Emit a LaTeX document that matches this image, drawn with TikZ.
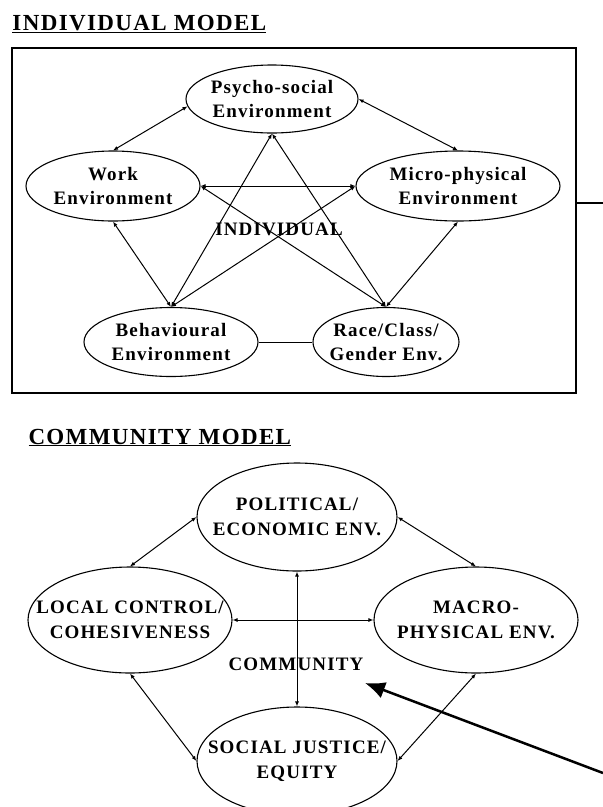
\documentclass[tikz,border=0pt]{standalone}
\usepackage{fontspec}
\setmainfont{Liberation Serif}[LetterSpace=6]
\usepackage{tikz}
\usetikzlibrary{positioning,arrows.meta,shapes.geometric}

\begin{document}
\begin{tikzpicture}[x=1pt,y=-1pt,line width=1pt,>={Latex[length=5pt,width=4pt]}]
  \tikzstyle{env}=[draw,ellipse,line width=1.1pt,inner xsep=-10pt,inner ysep=0pt,align=center,font=\bfseries\fontsize{19}{24}\selectfont]
  \tikzstyle{cenv}=[env,inner xsep=-25pt,font=\bfseries\fontsize{19}{25}\selectfont]
  \tikzstyle{heading}=[anchor=base west,inner sep=0pt,font=\bfseries\fontsize{23}{26}\selectfont]
  \useasboundingbox (0,0) rectangle (603,807);

  % individual model
  \node[heading] (indtitle) at (12,30) {\underline{INDIVIDUAL MODEL}};
  \node[draw,line width=1.5pt,minimum width=564pt,minimum height=345pt] (indbox) at (294,220.5) {};
  \node[env,minimum width=172pt,minimum height=68pt] (psy) at (272,99) {Psycho-social\\Environment};
  \node[env,minimum width=174pt,minimum height=70pt] (work) at (113,186) {Work\\Environment};
  \node[env,minimum width=204pt,minimum height=70pt] (mic) at (458,186) {Micro-physical\\Environment};
  \node[env,minimum width=174pt,minimum height=69pt] (beh) at (171,342) {Behavioural\\Environment};
  \node[env,minimum width=146pt,minimum height=69pt] (race) at (386,342) {Race/Class/\\Gender Env.};
  \node[font=\bfseries\fontsize{19}{22}\selectfont] (indiv) at (279,229) {INDIVIDUAL};

  \draw[<->] (psy.185) -- (work.north);
  \draw[<->] (psy.east) -- (mic.north);
  \draw[<->] (work.east) -- (mic.west);
  \draw[<->] (work.south) -- (beh.north);
  \draw[<->] (mic.south) -- (race.north);
  \draw[<->] (psy.south) -- (beh.north);
  \draw[<->] (psy.south) -- (race.north);
  \draw[<->] (work.east) -- (race.north);
  \draw[<->] (mic.west) -- (beh.north);
  \draw (beh.east) -- (race.west);

  \coordinate (linkend) at (603,203);
  \draw[line width=2pt] (indbox.east |- linkend) -- (linkend);

  % community model
  \node[heading] (comtitle) at (28,444) {\underline{COMMUNITY MODEL}};
  \node[cenv,minimum width=200pt,minimum height=108pt] (pol) at (297,517) {POLITICAL/\\ECONOMIC ENV.};
  \node[cenv,minimum width=204pt,minimum height=106pt] (loc) at (130,620) {LOCAL CONTROL/\\COHESIVENESS};
  \node[cenv,minimum width=204pt,minimum height=106pt] (mac) at (476,620) {MACRO-\\PHYSICAL ENV.};
  \node[cenv,minimum width=200pt,minimum height=108pt] (soc) at (297,761) {SOCIAL JUSTICE/\\EQUITY};
  \node[font=\bfseries\fontsize{19}{22}\selectfont] (commun) at (296,664) {COMMUNITY};

  \draw[<->] (pol.west) -- (loc.north);
  \draw[<->] (pol.east) -- (mac.north);
  \draw[<->] (loc.east) -- (mac.west);
  \draw[<->] (pol.south) -- (soc.north);
  \draw[<->] (loc.south) -- (soc.west);
  \draw[<->] (mac.south) -- (soc.east);

  \coordinate (bigtail) at (603,773);
  \coordinate (bighead) at (365,683);
  \draw[line width=2.5pt,-{Latex[length=20pt,width=17pt]}] (bigtail) -- (bighead);
\end{tikzpicture}
\end{document}
